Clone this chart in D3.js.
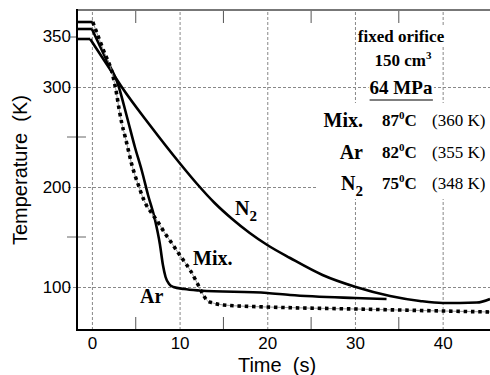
<!DOCTYPE html>
<html>
<head>
<meta charset="utf-8">
<script src="https://cdn.jsdelivr.net/npm/d3@7"></script>
<style>
  body { margin: 0; background: #fff; }
  svg { display: block; }
</style>
</head>
<body>
<div id="chart"></div>
<script>
// time (s) / temperature (K)
const tMix = [-1.7, 0.1, 1.3, 2.4, 2.8, 3.1, 3.4, 3.8, 4.15, 4.5, 4.9, 5.3, 5.7, 6.2, 6.8, 7.6, 8.3, 9.1, 9.7, 10.5, 11.2, 12.0, 12.7, 13.2, 13.8, 15, 20, 30, 40, 45.5];
const kMix = [365, 365, 337, 311, 294, 278, 264, 250, 237, 224, 212, 202, 192, 182, 174, 164, 154, 144, 136, 126, 117, 104, 92, 86, 84, 82, 80, 78, 76, 75];

const tAr = [-1.7, 0, 1.5, 3.0, 4.0, 4.9, 5.7, 6.4, 7.2, 7.75, 8.1, 8.4, 8.8, 9.3, 10.5, 12.3, 20, 22.6, 30, 33.6];
const kAr = [358, 358, 330, 302, 270, 240, 216, 192, 167, 143, 122, 110, 103, 100, 98, 96.5, 94, 92, 89, 88];

const tN2 = [-1.7, -0.2, 2.5, 3.4, 6.6, 10, 12, 14, 16, 18, 20, 22.6, 26.3, 30.1, 34, 37.4, 40, 43.9, 45.4];
const kN2 = [348, 348, 312, 300, 262, 224, 203, 184, 168, 154, 142, 129, 112, 100, 91, 86, 84, 84.5, 88];

const xTicks = [0, 10, 20, 30, 40];
const xMinor = [5, 15, 25, 35];
const yTicks = [100, 200, 300];
const yMinor = [150, 250];
const yShort = [350];

const gasNames = ['Mix.', 'Ar', 'N'];
const gasSub = ['', '', '2'];
const celsius = ['87', '82', '75'];
const kelvin = ['(360 K)', '(355 K)', '(348 K)'];

const W = 490, H = 375;
const sans = '"Liberation Sans", Arial, sans-serif';
const serif = '"Liberation Serif", "Times New Roman", serif';

const svg = d3.select('#chart').append('svg')
    .attr('width', W)
    .attr('height', H);

const x = d3.scaleLinear().domain([-1.7, 45.4]).range([77, 490]);
const y = d3.scaleLinear().domain([57, 377]).range([330, 10]);
const [xLeft, xRight] = x.range();
const [yBottom, yTop] = y.range();

// grid: dashed vertical lines + bottom tick labels
const gx = svg.append('g')
    .attr('transform', 'translate(0,' + yBottom + ')')
    .call(d3.axisBottom(x).tickValues(xTicks).tickSize(-(yBottom - yTop)).tickPadding(7));
gx.select('.domain').remove();
gx.selectAll('line').attr('stroke', '#888').attr('stroke-dasharray', '3,2');
gx.selectAll('text').attr('font-family', sans).attr('font-size', 17).attr('fill', '#000');

// grid: dashed horizontal lines + left tick labels
const gy = svg.append('g')
    .attr('transform', 'translate(' + xLeft + ',0)')
    .call(d3.axisLeft(y).tickValues(yTicks).tickSize(-(xRight - xLeft)).tickPadding(6));
gy.select('.domain').remove();
gy.selectAll('line').attr('x1', -9).attr('stroke', '#888').attr('stroke-dasharray', '3,2');
gy.selectAll('text').attr('font-family', sans).attr('font-size', 17).attr('fill', '#000');

// 350 label with a short tick only
svg.append('g').selectAll('text').data(yShort).enter().append('text')
    .attr('x', xLeft - 6).attr('y', d => y(d)).attr('dy', '0.32em')
    .attr('text-anchor', 'end')
    .attr('font-family', sans).attr('font-size', 17)
    .text(d => d);
svg.append('g').selectAll('line').data(yShort).enter().append('line')
    .attr('x1', xLeft - 9).attr('x2', xLeft)
    .attr('y1', d => y(d)).attr('y2', d => y(d))
    .attr('stroke', '#555');

// minor ticks
svg.append('g').selectAll('line').data(yMinor).enter().append('line')
    .attr('x1', xLeft - 10).attr('x2', xLeft + 9)
    .attr('y1', d => y(d)).attr('y2', d => y(d))
    .attr('stroke', '#666');
svg.append('g').selectAll('line').data(xMinor).enter().append('line')
    .attr('x1', d => x(d)).attr('x2', d => x(d))
    .attr('y1', yBottom).attr('y2', yBottom - 13)
    .attr('stroke', '#555');
svg.append('g').selectAll('line').data(xMinor).enter().append('line')
    .attr('x1', d => x(d)).attr('x2', d => x(d))
    .attr('y1', yTop).attr('y2', yTop + 13)
    .attr('stroke', '#555');

// axis titles
svg.append('text')
    .attr('transform', 'translate(27,170) rotate(-90)')
    .attr('text-anchor', 'middle')
    .attr('font-family', sans).attr('font-size', 20)
    .text('Temperature\u00a0\u00a0(K)');
svg.append('text')
    .attr('x', 277).attr('y', 372)
    .attr('text-anchor', 'middle')
    .attr('font-family', sans).attr('font-size', 20)
    .text('Time\u00a0\u00a0(s)');

// white box behind a text element
function backBox(node, pad) {
    const b = node.getBBox();
    d3.select(node.parentNode).insert('rect', () => node)
        .attr('x', b.x - pad).attr('y', b.y - pad)
        .attr('width', b.width + 2 * pad).attr('height', b.height + 2 * pad)
        .attr('fill', '#fff');
}

// header of the note
const note = svg.append('g').attr('font-family', serif).attr('font-weight', 'bold');
const h1 = note.append('text').attr('x', 401).attr('y', 42)
    .attr('text-anchor', 'middle').attr('font-size', 17).text('fixed orifice');
const h2 = note.append('text').attr('x', 403).attr('y', 66)
    .attr('text-anchor', 'middle').attr('font-size', 17);
h2.append('tspan').text('150 cm');
h2.append('tspan').attr('dy', -7).attr('font-size', 11).text('3');
const h3 = note.append('text').attr('x', 401).attr('y', 94)
    .attr('text-anchor', 'middle').attr('font-size', 19).text('64 MPa');
[h1, h2, h3].forEach(t => backBox(t.node(), 1));
const b3 = h3.node().getBBox();
note.append('line')
    .attr('x1', b3.x).attr('x2', b3.x + b3.width)
    .attr('y1', 100).attr('y2', 100)
    .attr('stroke', '#555').attr('stroke-width', 1.5);

// rows of the note
const rowsBox = note.append('rect').attr('fill', '#fff');
const rowY = [127, 159, 190];
const rows = note.append('g');
gasNames.forEach((g, i) => {
    const t = rows.append('text').attr('x', 363).attr('y', rowY[i])
        .attr('text-anchor', 'end').attr('font-size', 20);
    t.append('tspan').text(g);
    if (gasSub[i]) t.append('tspan').attr('dy', 6).attr('font-size', 15).text(gasSub[i]);

    const c = rows.append('text').attr('x', 382).attr('y', rowY[i] - 1).attr('font-size', 17);
    c.append('tspan').text(celsius[i]);
    c.append('tspan').attr('dy', -7).attr('font-size', 11).text('0');
    c.append('tspan').attr('dy', 7).text('C');

    rows.append('text').attr('x', 432).attr('y', rowY[i] - 1)
        .attr('font-size', 17).attr('font-weight', 'normal')
        .text(kelvin[i]);
});
rowsBox.attr('x', 318).attr('y', 103).attr('width', xRight - 318).attr('height', 96);

// curves: flat start drawn straight, the cooling part smoothed
const series = [
    { t: tN2, k: kN2, dotted: false },
    { t: tAr, k: kAr, dotted: false },
    { t: tMix, k: kMix, dotted: true },
];
const flat = d3.line().x(d => x(d[0])).y(d => y(d[1]));
const smooth = d3.line().x(d => x(d[0])).y(d => y(d[1])).curve(d3.curveMonotoneX);

series.forEach(s => {
    const pts = s.t.map((t, i) => [t, s.k[i]]);
    svg.append('path').attr('d', flat(pts.slice(0, 2)))
        .attr('fill', 'none').attr('stroke', '#000').attr('stroke-width', 2.6);
    if (s.dotted) {
        svg.append('path').attr('d', smooth(pts.slice(1)))
            .attr('fill', 'none').attr('stroke', '#999').attr('stroke-width', 1);
        svg.append('path').attr('d', smooth(pts.slice(1)))
            .attr('fill', 'none').attr('stroke', '#000').attr('stroke-width', 3.6)
            .attr('stroke-dasharray', '3.5,3.8');
    } else {
        svg.append('path').attr('d', smooth(pts.slice(1)))
            .attr('fill', 'none').attr('stroke', '#000').attr('stroke-width', 2.6);
    }
});

// curve labels
const lab = svg.append('g').attr('font-family', serif).attr('font-weight', 'bold').attr('font-size', 20);
const n2 = lab.append('text').attr('x', 235).attr('y', 215);
n2.append('tspan').text('N');
n2.append('tspan').attr('dy', 6).attr('font-size', 15).text('2');
lab.append('text').attr('x', 193).attr('y', 265).text('Mix.');
lab.append('text').attr('x', 140).attr('y', 303).text('Ar');

// frame
svg.append('line').attr('x1', xLeft).attr('x2', xRight).attr('y1', yTop).attr('y2', yTop)
    .attr('stroke', '#777').attr('stroke-width', 2);
svg.append('line').attr('x1', xLeft).attr('x2', xLeft).attr('y1', yTop - 1).attr('y2', yBottom + 1)
    .attr('stroke', '#000').attr('stroke-width', 2);
svg.append('line').attr('x1', xLeft - 1).attr('x2', xRight).attr('y1', yBottom).attr('y2', yBottom)
    .attr('stroke', '#000').attr('stroke-width', 2);
</script>
</body>
</html>
